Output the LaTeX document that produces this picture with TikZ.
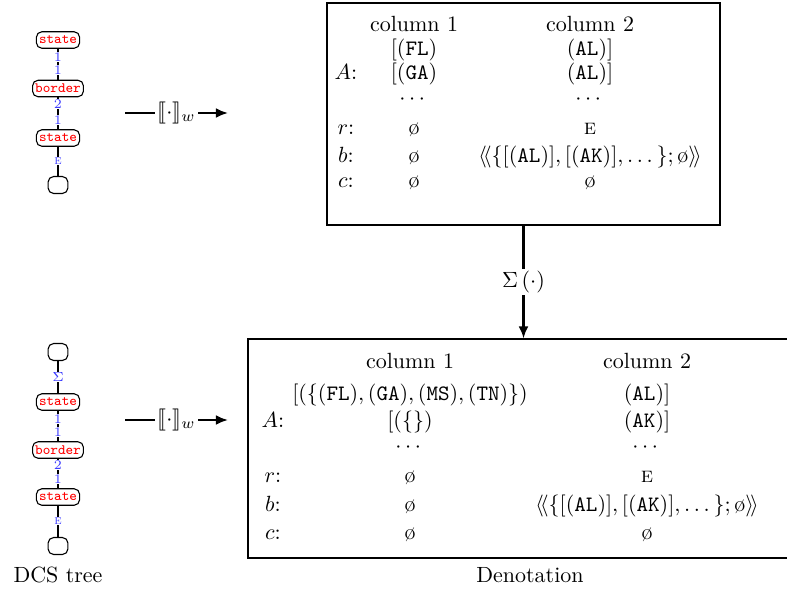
\documentclass[tikz,border=0pt]{standalone}
\usepackage{amsmath,amssymb}
\usepackage{stmaryrd}
\usetikzlibrary{arrows.meta,fit}
\definecolor{lblblue}{RGB}{60,60,255}
\begin{document}
\begin{tikzpicture}[x=0.4545pt,y=-0.4545pt,
  pred/.style={draw, line width=0.5pt, rounded corners=2.5pt, text=red, font=\fontsize{6.5}{7}\selectfont\ttfamily, inner xsep=1.2pt, inner ysep=0pt, minimum height=7.5pt},
  leaf/.style={draw, line width=0.5pt, rounded corners=2.5pt, minimum width=9pt, minimum height=7.7pt, inner sep=0pt},
  elab/.style={fill=white, text=lblblue, font=\fontsize{6}{6}\selectfont, inner sep=0.3pt},
  tree/.style={line width=0.5pt},
  bigarrow/.style={line width=1pt, -{Latex[length=5.5pt,width=4.5pt]}},
  alab/.style={fill=white, inner sep=1pt},
  cell/.style={anchor=base, inner sep=0pt},
  box/.style={draw, line width=0.5pt, inner sep=0pt},
]
\useasboundingbox (0,0) rectangle (787,588);
\clip (0,0) rectangle (787,588);

% ---------- top DCS tree ----------
\node[pred] (t1) at (58,40) {state};
\node[pred] (t2) at (58,88.5) {border};
\node[pred] (t3) at (58,138) {state};
\node[leaf] (t4) at (58,185) {};
\draw[tree] (t1) -- node[elab, pos=0.27] {1} node[elab, pos=0.7] {1} (t2);
\draw[tree] (t2) -- node[elab, pos=0.22] {2} node[elab, pos=0.7] {1} (t3);
\draw[tree] (t3) -- node[elab] {\textsc{e}} (t4);

% ---------- bottom DCS tree ----------
\node[leaf] (b0) at (58,352) {};
\node[pred] (b1) at (58,402) {state};
\node[pred] (b2) at (58,450) {border};
\node[pred] (b3) at (58,497) {state};
\node[leaf] (b4) at (58,546) {};
\draw[tree] (b0) -- node[elab] {$\Sigma$} (b1);
\draw[tree] (b1) -- node[elab, pos=0.27] {1} node[elab, pos=0.7] {1} (b2);
\draw[tree] (b2) -- node[elab, pos=0.22] {2} node[elab, pos=0.7] {1} (b3);
\draw[tree] (b3) -- node[elab] {\textsc{e}} (b4);
\node (dcslabel) at (58,575) {DCS tree};

% ---------- interpretation arrows ----------
\coordinate (a1s) at (125,113);
\coordinate (a1e) at (228,113);
\draw[bigarrow] (a1s) -- node[alab] {$\llbracket\cdot\rrbracket_w$} (a1e);
\coordinate (a2s) at (125,420);
\coordinate (a2e) at (228,420);
\draw[bigarrow] (a2s) -- node[alab] {$\llbracket\cdot\rrbracket_w$} (a2e);

% ---------- top denotation box ----------
\coordinate (tbtl) at (327,3);
\coordinate (tbbr) at (720,225);
\node[box, fit=(tbtl)(tbbr)] (topbox) {};
\node[cell] (th1) at (414,31) {column 1};
\node[cell] (th2) at (590,31) {column 2};
\node[cell] (tr1a) at (414,55) {$[(\texttt{FL})$};
\node[cell] (tr1b) at (590,55) {$(\texttt{AL})]$};
\node[cell] (tlA) at (346,79) {$A$:};
\node[cell] (tr2a) at (414,79) {$[(\texttt{GA})$};
\node[cell] (tr2b) at (590,79) {$(\texttt{AL})]$};
\node[cell] (td1) at (414,104) {$\cdots$};
\node[cell] (td2) at (590,104) {$\cdots$};
\node[cell] (tlr) at (346,134) {$r$:};
\node[cell] (tra) at (414,134) {\o};
\node[cell] (trb) at (590,134) {\textsc{e}};
\node[cell] (tlb) at (346,162) {$b$:};
\node[cell] (tba) at (414,162) {\o};
\node[cell] (tbb) at (590,162) {$\langle\!\langle\{[(\texttt{AL})],[(\texttt{AK})],\dots\};\text{\o}\rangle\!\rangle$};
\node[cell] (tlc) at (346,187) {$c$:};
\node[cell] (tca) at (414,187) {\o};
\node[cell] (tcb) at (590,187) {\o};

% ---------- bottom denotation box ----------
\coordinate (bbtl) at (248,339);
\coordinate (bbbr) at (800,558);
\node[box, fit=(bbtl)(bbbr)] (botbox) {};
\node[cell] (bh1) at (410,368) {column 1};
\node[cell] (bh2) at (647,368) {column 2};
\node[cell] (br1a) at (410,400) {$[(\{(\texttt{FL}),(\texttt{GA}),(\texttt{MS}),(\texttt{TN})\})$};
\node[cell] (br1b) at (647,400) {$(\texttt{AL})]$};
\node[cell] (blA) at (273,427) {$A$:};
\node[cell] (br2a) at (410,427) {$[(\{\})$};
\node[cell] (br2b) at (647,427) {$(\texttt{AK})]$};
\node[cell] (bd1) at (410,452) {$\cdots$};
\node[cell] (bd2) at (647,452) {$\cdots$};
\node[cell] (blr) at (273,482) {$r$:};
\node[cell] (bra) at (410,482) {\o};
\node[cell] (brb) at (647,482) {\textsc{e}};
\node[cell] (blb) at (273,511) {$b$:};
\node[cell] (bba) at (410,511) {\o};
\node[cell] (bbb) at (647,511) {$\langle\!\langle\{[(\texttt{AL})],[(\texttt{AK})],\dots\};\text{\o}\rangle\!\rangle$};
\node[cell] (blc) at (273,539) {$c$:};
\node[cell] (bca) at (410,539) {\o};
\node[cell] (bcb) at (647,539) {\o};
\node (denlabel) at (530,575) {Denotation};

% ---------- summation arrow ----------
\draw[bigarrow] (topbox.south) -- node[alab] {$\Sigma\left(\cdot\right)$} (topbox.south |- botbox.north);
\end{tikzpicture}
\end{document}
